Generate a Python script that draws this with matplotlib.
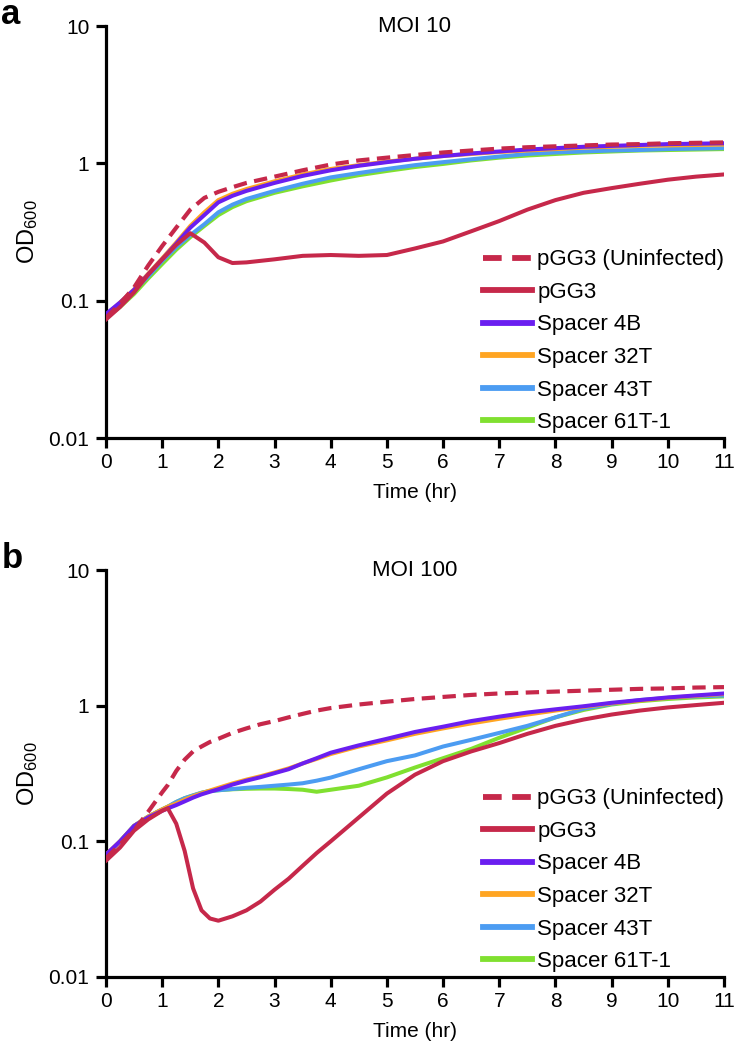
import matplotlib
matplotlib.use("Agg")
import matplotlib.pyplot as plt

plt.rcParams['font.family'] = ['Liberation Sans', 'DejaVu Sans']
plt.rcParams['mathtext.default'] = 'regular'

# ---------------- data ----------------
labels = ['pGG3 (Uninfected)', 'pGG3', 'Spacer 4B', 'Spacer 32T', 'Spacer 43T', 'Spacer 61T-1']
colors = ['#C6284A', '#C6284A', '#6A1EF0', '#FFA522', '#4C9CF2', '#80E030']
x_ticks = list(range(0, 12))
y_ticks = [0.01, 0.1, 1, 10]
y_tick_labels = ['0.01', '0.1', '1', '10']

# panel a, MOI 10
time_a = [0, 0.25, 0.5, 0.75, 1, 1.25, 1.5, 1.75, 2, 2.25, 2.5, 3, 3.5, 4,
          4.5, 5, 5.5, 6, 6.5, 7, 7.5, 8, 8.5, 9, 9.5, 10, 10.5, 11]
uninf_a = [0.075, 0.095, 0.125, 0.18, 0.25, 0.34, 0.46, 0.56, 0.62, 0.67, 0.72, 0.80, 0.89, 0.98,
           1.05, 1.10, 1.15, 1.20, 1.24, 1.28, 1.31, 1.33, 1.35, 1.37, 1.38, 1.40, 1.41, 1.42]
pgg3_a = [0.073, 0.09, 0.115, 0.155, 0.20, 0.255, 0.31, 0.265, 0.207, 0.188, 0.19, 0.20, 0.212, 0.215,
          0.212, 0.215, 0.24, 0.27, 0.32, 0.38, 0.46, 0.54, 0.61, 0.66, 0.71, 0.76, 0.80, 0.83]
sp4b_a = [0.08, 0.097, 0.12, 0.155, 0.20, 0.26, 0.34, 0.42, 0.52, 0.58, 0.63, 0.72, 0.81, 0.89,
          0.96, 1.02, 1.08, 1.13, 1.18, 1.22, 1.26, 1.29, 1.32, 1.34, 1.36, 1.38, 1.39, 1.40]
sp32t_a = [0.078, 0.097, 0.121, 0.157, 0.203, 0.265, 0.35, 0.44, 0.54, 0.60, 0.65, 0.74, 0.83, 0.91,
           0.97, 1.03, 1.08, 1.13, 1.17, 1.21, 1.24, 1.27, 1.30, 1.32, 1.34, 1.35, 1.36, 1.37]
sp43t_a = [0.078, 0.095, 0.118, 0.15, 0.195, 0.245, 0.30, 0.36, 0.44, 0.50, 0.55, 0.63, 0.71, 0.79,
           0.85, 0.91, 0.97, 1.02, 1.07, 1.12, 1.17, 1.20, 1.22, 1.24, 1.25, 1.27, 1.28, 1.29]
sp61t_a = [0.075, 0.09, 0.112, 0.145, 0.185, 0.235, 0.29, 0.35, 0.42, 0.48, 0.53, 0.61, 0.68, 0.75,
           0.82, 0.88, 0.94, 0.99, 1.05, 1.10, 1.14, 1.17, 1.20, 1.22, 1.24, 1.25, 1.26, 1.27]

# panel b, MOI 100
time_b = [0, 0.25, 0.5, 0.75, 1, 1.1, 1.25, 1.4, 1.55, 1.7, 1.85, 2, 2.25, 2.5, 2.75, 3, 3.25,
          3.5, 3.75, 4, 4.5, 5, 5.5, 6, 6.5, 7, 7.5, 8, 8.5, 9, 9.5, 10, 10.5, 11]
uninf_b = [0.075, 0.095, 0.12, 0.165, 0.23, 0.26, 0.33, 0.40, 0.46, 0.50, 0.54, 0.57, 0.63, 0.68,
           0.73, 0.77, 0.82, 0.87, 0.92, 0.96, 1.02, 1.07, 1.12, 1.16, 1.20, 1.23, 1.25, 1.27,
           1.29, 1.31, 1.33, 1.34, 1.36, 1.37]
pgg3_b = [0.072, 0.09, 0.12, 0.145, 0.168, 0.175, 0.135, 0.085, 0.045, 0.031, 0.027, 0.026, 0.028,
          0.031, 0.036, 0.044, 0.053, 0.066, 0.082, 0.10, 0.15, 0.225, 0.31, 0.39, 0.46, 0.53,
          0.62, 0.71, 0.79, 0.86, 0.92, 0.97, 1.01, 1.05]
sp4b_b = [0.08, 0.10, 0.13, 0.15, 0.168, 0.175, 0.185, 0.197, 0.21, 0.222, 0.232, 0.242, 0.262,
          0.28, 0.297, 0.318, 0.34, 0.375, 0.41, 0.45, 0.51, 0.57, 0.64, 0.70, 0.77, 0.83, 0.89,
          0.94, 0.99, 1.05, 1.10, 1.15, 1.19, 1.23]
sp32t_b = [0.08, 0.10, 0.13, 0.152, 0.172, 0.18, 0.19, 0.203, 0.215, 0.226, 0.237, 0.248, 0.267,
           0.285, 0.302, 0.322, 0.345, 0.375, 0.405, 0.44, 0.50, 0.555, 0.62, 0.68, 0.74, 0.80,
           0.86, 0.92, 0.98, 1.04, 1.09, 1.14, 1.18, 1.22]
sp43t_b = [0.078, 0.10, 0.13, 0.152, 0.172, 0.18, 0.195, 0.208, 0.218, 0.228, 0.235, 0.238, 0.243,
           0.248, 0.252, 0.257, 0.262, 0.268, 0.28, 0.295, 0.34, 0.39, 0.43, 0.50, 0.56, 0.63,
           0.71, 0.82, 0.95, 1.03, 1.10, 1.14, 1.17, 1.19]
sp61t_b = [0.078, 0.10, 0.13, 0.152, 0.172, 0.18, 0.195, 0.208, 0.218, 0.228, 0.235, 0.238, 0.242,
           0.244, 0.245, 0.245, 0.243, 0.24, 0.232, 0.24, 0.257, 0.296, 0.35, 0.41, 0.48, 0.58,
           0.69, 0.82, 0.93, 1.02, 1.08, 1.12, 1.15, 1.17]

panels = [
    ('a', 'MOI 10', time_a, [uninf_a, pgg3_a, sp4b_a, sp32t_a, sp43t_a, sp61t_a]),
    ('b', 'MOI 100', time_b, [uninf_b, pgg3_b, sp4b_b, sp32t_b, sp43t_b, sp61t_b]),
]

# draw order: green at the bottom, dashed on top
zorders = [8, 7, 6, 5, 4, 3]

W, H = 737, 1050
fig = plt.figure(figsize=(W / 100, H / 100), dpi=100)

# axes boxes in pixels: left, top, right, bottom
boxes = [(106, 26, 724, 438), (106, 570, 724, 977)]

for (letter, title, t, series), (l, tp, r, b) in zip(panels, boxes):
    ax = fig.add_axes([l / W, 1 - b / H, (r - l) / W, (b - tp) / H])

    handles = []
    for vals, lab, col, z in zip(series, labels, colors, zorders):
        if lab == 'pGG3 (Uninfected)':
            h, = ax.plot(t, vals, color=col, lw=3.0, ls=(0, (3.2, 1.8)), label=lab, zorder=z)
        else:
            h, = ax.plot(t, vals, color=col, lw=2.9, label=lab, zorder=z)
        handles.append(h)

    ax.set_yscale('log')
    ax.set_xlim(0, 11)
    ax.set_ylim(0.01, 10)
    ax.set_xticks(x_ticks)
    ax.set_xticklabels([str(v) for v in x_ticks])
    ax.set_yticks(y_ticks)
    ax.set_yticklabels(y_tick_labels)
    ax.minorticks_off()

    ax.spines['top'].set_visible(False)
    ax.spines['right'].set_visible(False)
    ax.spines['left'].set_linewidth(2.3)
    ax.spines['bottom'].set_linewidth(2.3)
    ax.tick_params(axis='both', width=2.3, length=7.5, labelsize=15, color='black')
    ax.tick_params(axis='x', pad=3)
    ax.tick_params(axis='y', pad=4.5)

    ax.set_xlabel('Time (hr)', fontsize=15, labelpad=8)
    ax.text(0.5, 1.0, title, transform=ax.transAxes, ha='center', va='center', fontsize=16)

    # y label sits well to the left of the tick labels
    fig.text(28 / W, 1 - ((tp + b) / 2) / H, 'OD$_{600}$', rotation=90,
             ha='center', va='center', fontsize=17)

    leg = ax.legend(handles=handles, loc='lower left', bbox_to_anchor=(0.61, 0.012),
                    frameon=False, fontsize=16, handlelength=2.2, handletextpad=0.25,
                    labelspacing=0.52, borderpad=0, borderaxespad=0)
    for lh in leg.get_lines():
        lh.set_linewidth(4.2)

    fig.text(0.002, 1 - (tp - 2) / H, letter, fontsize=25, fontweight='bold',
             ha='left', va='baseline')

fig.savefig('out.png', dpi=100)
